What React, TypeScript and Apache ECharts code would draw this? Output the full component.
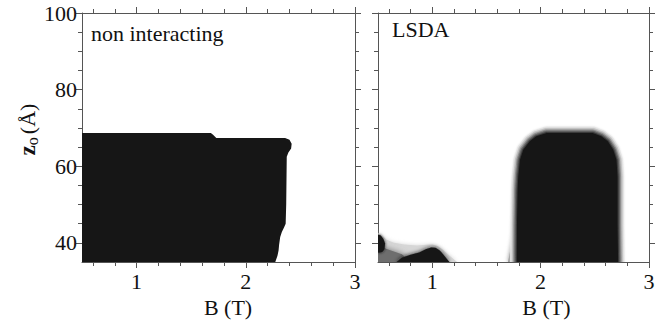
import React, { useEffect, useRef } from "react";
import * as echarts from "echarts";

// ---- axes ----
const bRange = [0.5, 3];
const zRange = [35, 100];
const xMajorTicks = [1, 2, 3];
const xMinorTicks = [0.6, 0.8, 1.2, 1.4, 1.6, 1.8, 2.2, 2.4, 2.6, 2.8];
const yMajorTicks = [40, 60, 80, 100];
const yMinorTicks = [45, 50, 55, 65, 70, 75, 85, 90, 95];
const panelTitles = ["non interacting", "LSDA"];
const xAxisTitle = "B (T)";

// ---- region boundaries [B (T), z0 (Å)] ----
const nonInteractingRegion = [
  [0.5, 35], [0.5, 68.7], [1.68, 68.7], [1.7, 68.2], [1.73, 67.4], [2.36, 67.4],
  [2.4, 66.9], [2.42, 65.9], [2.415, 64.6], [2.39, 63.6], [2.375, 62.5], [2.37, 50],
  [2.365, 45], [2.35, 44], [2.33, 42.8], [2.315, 41.5], [2.305, 39.5], [2.3, 38],
  [2.29, 36.6], [2.27, 35],
];

const lsdaMainFlare = [
  [1.7, 35], [1.72, 38], [1.745, 42], [1.765, 48], [1.775, 55], [1.8, 35],
];
const lsdaMainRegion = [
  [1.78, 35], [1.782, 45], [1.788, 54], [1.794, 57.4], [1.81, 61.7], [1.84, 64.3],
  [1.9, 66.5], [1.96, 67.8], [2.056, 68.7], [2.48, 68.7], [2.56, 67.8], [2.62, 66.5],
  [2.67, 64.3], [2.7, 61.7], [2.71, 57.4], [2.71, 45], [2.715, 35],
];
const lsdaSmallHalo = [
  [0.5, 35], [0.5, 42.6], [0.54, 41.8], [0.58, 40.8], [0.64, 40.1], [0.74, 39.6],
  [0.86, 39.3], [0.95, 39.5], [1.0, 39.6], [1.05, 39.2], [1.1, 38.2], [1.16, 36.6],
  [1.23, 35],
];
const lsdaSmallGray = [
  [0.5, 35], [0.5, 39.5], [0.56, 38.6], [0.64, 37.8], [0.72, 37.0], [0.76, 36], [0.78, 35],
];
const lsdaSmallLobe = [
  [0.5, 37.4], [0.5, 42.2], [0.525, 41.9], [0.55, 41], [0.565, 39.8], [0.56, 38.4],
  [0.54, 37.6],
];
const lsdaSmallBlob = [
  [0.67, 35], [0.72, 36.1], [0.8, 36.9], [0.88, 37.5], [0.94, 38.3], [0.99, 38.8],
  [1.03, 38.7], [1.07, 38], [1.1, 37], [1.13, 36], [1.16, 35],
];

const DARK = "#161616";
const AXIS_COLOR = "#555";
const FONT = "Liberation Serif, DejaVu Serif, serif";

type Layer = { pts: number[][]; fill: string; halo: boolean; blur: number };

const leftLayers: Layer[] = [
  { pts: nonInteractingRegion, fill: DARK, halo: false, blur: 0 },
];
const rightLayers: Layer[] = [
  { pts: lsdaSmallHalo, fill: "#d6d6d6", halo: false, blur: 4 },
  { pts: lsdaSmallGray, fill: "#6e6e6e", halo: false, blur: 6 },
  { pts: lsdaSmallLobe, fill: DARK, halo: false, blur: 3 },
  { pts: lsdaSmallBlob, fill: DARK, halo: false, blur: 4 },
  { pts: lsdaMainFlare, fill: "#8c8c8c", halo: false, blur: 4 },
  { pts: lsdaMainRegion, fill: DARK, halo: true, blur: 0 },
];

// halo rings: stroke width and colour, drawn under the dark fill
const haloRings = [
  { width: 13, color: "#ececec" },
  { width: 10, color: "#cccccc" },
  { width: 7, color: "#a0a0a0" },
  { width: 4.5, color: "#707070" },
  { width: 2, color: "#3a3a3a" },
];

const textBase = { fontFamily: FONT, fontSize: 22, color: "#111" };

function makeXAxes(gridIndex: number, labeled: boolean, nameShift: number) {
  const line = { lineStyle: { color: AXIS_COLOR, width: 1 } };
  const base = {
    gridIndex, type: "value", min: bRange[0], max: bRange[1],
    splitLine: { show: false },
  };
  return [
    {
      ...base, position: "bottom",
      axisLine: { show: true, onZero: false, ...line },
      axisTick: { show: true, customValues: xMajorTicks, length: 6, ...line },
      axisLabel: { show: labeled, customValues: xMajorTicks, margin: 8, ...textBase },
      name: xAxisTitle, nameLocation: "middle", nameGap: 34,
      nameTextStyle: { ...textBase, padding: [0, 0, 0, nameShift] },
    },
    {
      ...base, position: "bottom",
      axisLine: { show: false, onZero: false },
      axisTick: { show: true, customValues: xMinorTicks, length: 4, ...line },
      axisLabel: { show: false },
    },
    {
      ...base, position: "top",
      axisLine: { show: true, onZero: false, ...line },
      axisTick: { show: true, customValues: xMajorTicks, length: 6, ...line },
      axisLabel: { show: false },
    },
    {
      ...base, position: "top",
      axisLine: { show: false, onZero: false },
      axisTick: { show: true, customValues: xMinorTicks, length: 4, ...line },
      axisLabel: { show: false },
    },
  ];
}

function makeYAxes(gridIndex: number, labeled: boolean) {
  const line = { lineStyle: { color: AXIS_COLOR, width: 1 } };
  const base = {
    gridIndex, type: "value", min: zRange[0], max: zRange[1],
    splitLine: { show: false },
  };
  const left: any = {
    ...base, position: "left",
    axisLine: { show: true, onZero: false, ...line },
    axisTick: { show: true, customValues: yMajorTicks, length: 6, ...line },
    axisLabel: { show: labeled, customValues: yMajorTicks, margin: 5, ...textBase },
  };
  if (labeled) {
    left.name = "{z|z}{o|o} {p|(Å)}";
    left.nameLocation = "middle";
    left.nameRotate = 90;
    left.nameGap = 40;
    left.nameTextStyle = {
      fontFamily: FONT, color: "#111", padding: [0, 0, 0, 16],
      rich: {
        z: { fontFamily: FONT, fontSize: 23, lineHeight: 26, color: "#111", fontWeight: "bold" },
        o: { fontFamily: FONT, fontSize: 16, lineHeight: 18, color: "#111", verticalAlign: "bottom" },
        p: { fontFamily: FONT, fontSize: 22, lineHeight: 26, color: "#111" },
      },
    };
  }
  return [
    left,
    {
      ...base, position: "left",
      axisLine: { show: false, onZero: false },
      axisTick: { show: true, customValues: yMinorTicks, length: 4, ...line },
      axisLabel: { show: false },
    },
    {
      ...base, position: "right",
      axisLine: { show: true, onZero: false, ...line },
      axisTick: { show: true, customValues: yMajorTicks, length: 6, ...line },
      axisLabel: { show: false },
    },
    {
      ...base, position: "right",
      axisLine: { show: false, onZero: false },
      axisTick: { show: true, customValues: yMinorTicks, length: 4, ...line },
      axisLabel: { show: false },
    },
  ];
}

function regionSeries(layers: Layer[], axisIndex: number) {
  return {
    type: "custom",
    xAxisIndex: axisIndex,
    yAxisIndex: axisIndex,
    clip: true,
    silent: true,
    data: layers.map((l) => [l.pts[0][0], l.pts[0][1]]),
    renderItem: (params: any, api: any) => {
      const layer = layers[params.dataIndex];
      const points = layer.pts.map((p) => api.coord(p));
      const children: any[] = [];
      if (layer.halo) {
        haloRings.forEach((r) => {
          children.push({
            type: "polygon",
            shape: { points },
            style: {
              fill: "none", stroke: r.color, lineWidth: r.width, lineJoin: "round",
              shadowBlur: 2, shadowColor: r.color,
            },
          });
        });
      }
      children.push({
        type: "polygon",
        shape: { points },
        style: {
          fill: layer.fill,
          shadowBlur: layer.blur,
          shadowColor: layer.blur ? layer.fill : "transparent",
        },
      });
      return { type: "group", children };
    },
  };
}

export default function App() {
  const ref = useRef<HTMLDivElement>(null);
  useEffect(() => {
    if (!ref.current) return;
    const chart = echarts.init(ref.current, undefined, { renderer: "svg" });
    chart.setOption({
      animation: false,
      backgroundColor: "#fff",
      textStyle: { fontFamily: FONT },
      grid: [
        { left: 82, top: 13, width: 273, height: 249 },
        { left: 378, top: 13, width: 271, height: 249 },
      ],
      xAxis: [...makeXAxes(0, true, 19), ...makeXAxes(1, true, 66)],
      yAxis: [...makeYAxes(0, true), ...makeYAxes(1, false)],
      series: [regionSeries(leftLayers, 0), regionSeries(rightLayers, 4)],
      graphic: [
        {
          type: "text", left: 91, top: 22, z: 10,
          style: { text: panelTitles[0], fontFamily: FONT, fontSize: 22, fill: "#111" },
        },
        {
          type: "text", left: 392, top: 18, z: 10,
          style: { text: panelTitles[1], fontFamily: FONT, fontSize: 22, fill: "#111" },
        },
      ],
    });
    return () => chart.dispose();
  }, []);
  return (
    <div
      ref={ref}
      style={{ position: "fixed", left: 0, top: 0, width: 672, height: 326 }}
    />
  );
}
